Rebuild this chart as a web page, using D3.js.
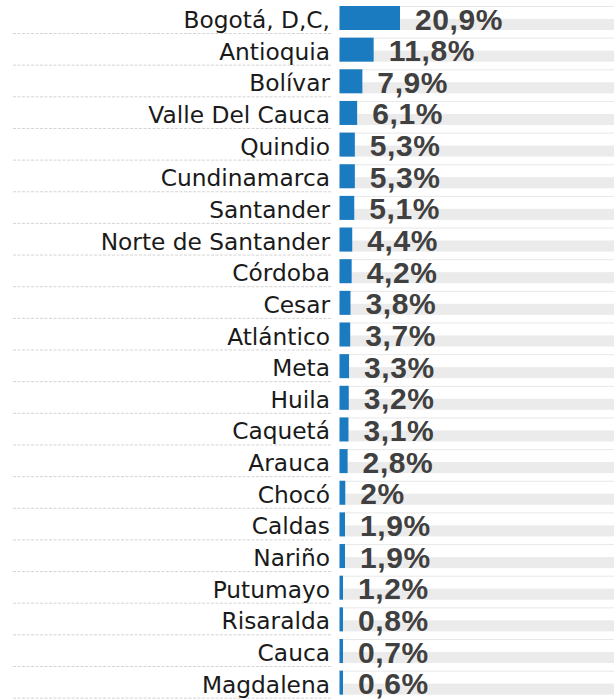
<!DOCTYPE html>
<html><head><meta charset="utf-8">
<script src="https://cdn.jsdelivr.net/npm/d3@7"></script>
<style>html,body{margin:0;padding:0;background:#fff;}svg{display:block;}</style>
</head><body>
<svg id="chart" width="615" height="699"></svg>
<script>
const categories = ["Bogotá, D,C,","Antioquia","Bolívar","Valle Del Cauca","Quindio","Cundinamarca","Santander","Norte de Santander","Córdoba","Cesar","Atlántico","Meta","Huila","Caquetá","Arauca","Chocó","Caldas","Nariño","Putumayo","Risaralda","Cauca","Magdalena"];
const values = [20.9,11.8,7.9,6.1,5.3,5.3,5.1,4.4,4.2,3.8,3.7,3.3,3.2,3.1,2.8,2,1.9,1.9,1.2,0.8,0.7,0.6];
const valueLabels = ["20,9%","11,8%","7,9%","6,1%","5,3%","5,3%","5,1%","4,4%","4,2%","3,8%","3,7%","3,3%","3,2%","3,1%","2,8%","2%","1,9%","1,9%","1,2%","0,8%","0,7%","0,6%"];

const data = categories.map((c,i)=>({cat:c, v:values[i], lab:valueLabels[i]}));
const svg = d3.select("#chart");
const rowStep = 31.65, pad = 0.2417, topY = 6;
const y = d3.scaleBand().domain(categories).range([topY, topY + rowStep*(categories.length - pad)]).paddingInner(pad).paddingOuter(0);
const x0 = 339.5, xRight = 614;
const x = d3.scaleLinear().domain([0, 20.9]).range([x0, 400]);
const bw = y.bandwidth();

const rows = svg.selectAll("g.row").data(data).join("g").attr("class","row");
rows.append("line")
  .attr("x1",13).attr("x2",332)
  .attr("y1",d=>y(d.cat)+bw+3.5).attr("y2",d=>y(d.cat)+bw+3.5)
  .attr("stroke","#d4d4d4").attr("stroke-width",1).attr("stroke-dasharray","3,1.5");
rows.append("line")
  .attr("x1",x0).attr("x2",xRight)
  .attr("y1",d=>y(d.cat)+0.5).attr("y2",d=>y(d.cat)+0.5)
  .attr("stroke","#e8e8e8").attr("stroke-width",1);
rows.append("rect")
  .attr("x",x0).attr("width",xRight-x0)
  .attr("y",d=>y(d.cat)+bw*0.54).attr("height",bw*0.46)
  .attr("fill","#ebebeb");
rows.append("rect")
  .attr("x",x0).attr("y",d=>y(d.cat))
  .attr("width",d=>Math.max(3.5, x(d.v)-x0)).attr("height",bw)
  .attr("fill","#1a7bc1");
rows.append("text")
  .attr("x",330).attr("y",d=>y(d.cat)+22)
  .attr("text-anchor","end")
  .attr("font-family","'DejaVu Sans', sans-serif").attr("font-size",23.3)
  .attr("fill","#1a1a1a")
  .text(d=>d.cat);
rows.append("text")
  .attr("x",d=>Math.max(x0+3.5, x(d.v))+15).attr("y",d=>y(d.cat)+23.5)
  .attr("font-family","'Liberation Sans', Arial, sans-serif").attr("font-weight","bold").attr("font-size",30)
  .attr("letter-spacing",0.6)
  .attr("fill","#404040")
  .text(d=>d.lab);
</script>
</body></html>
